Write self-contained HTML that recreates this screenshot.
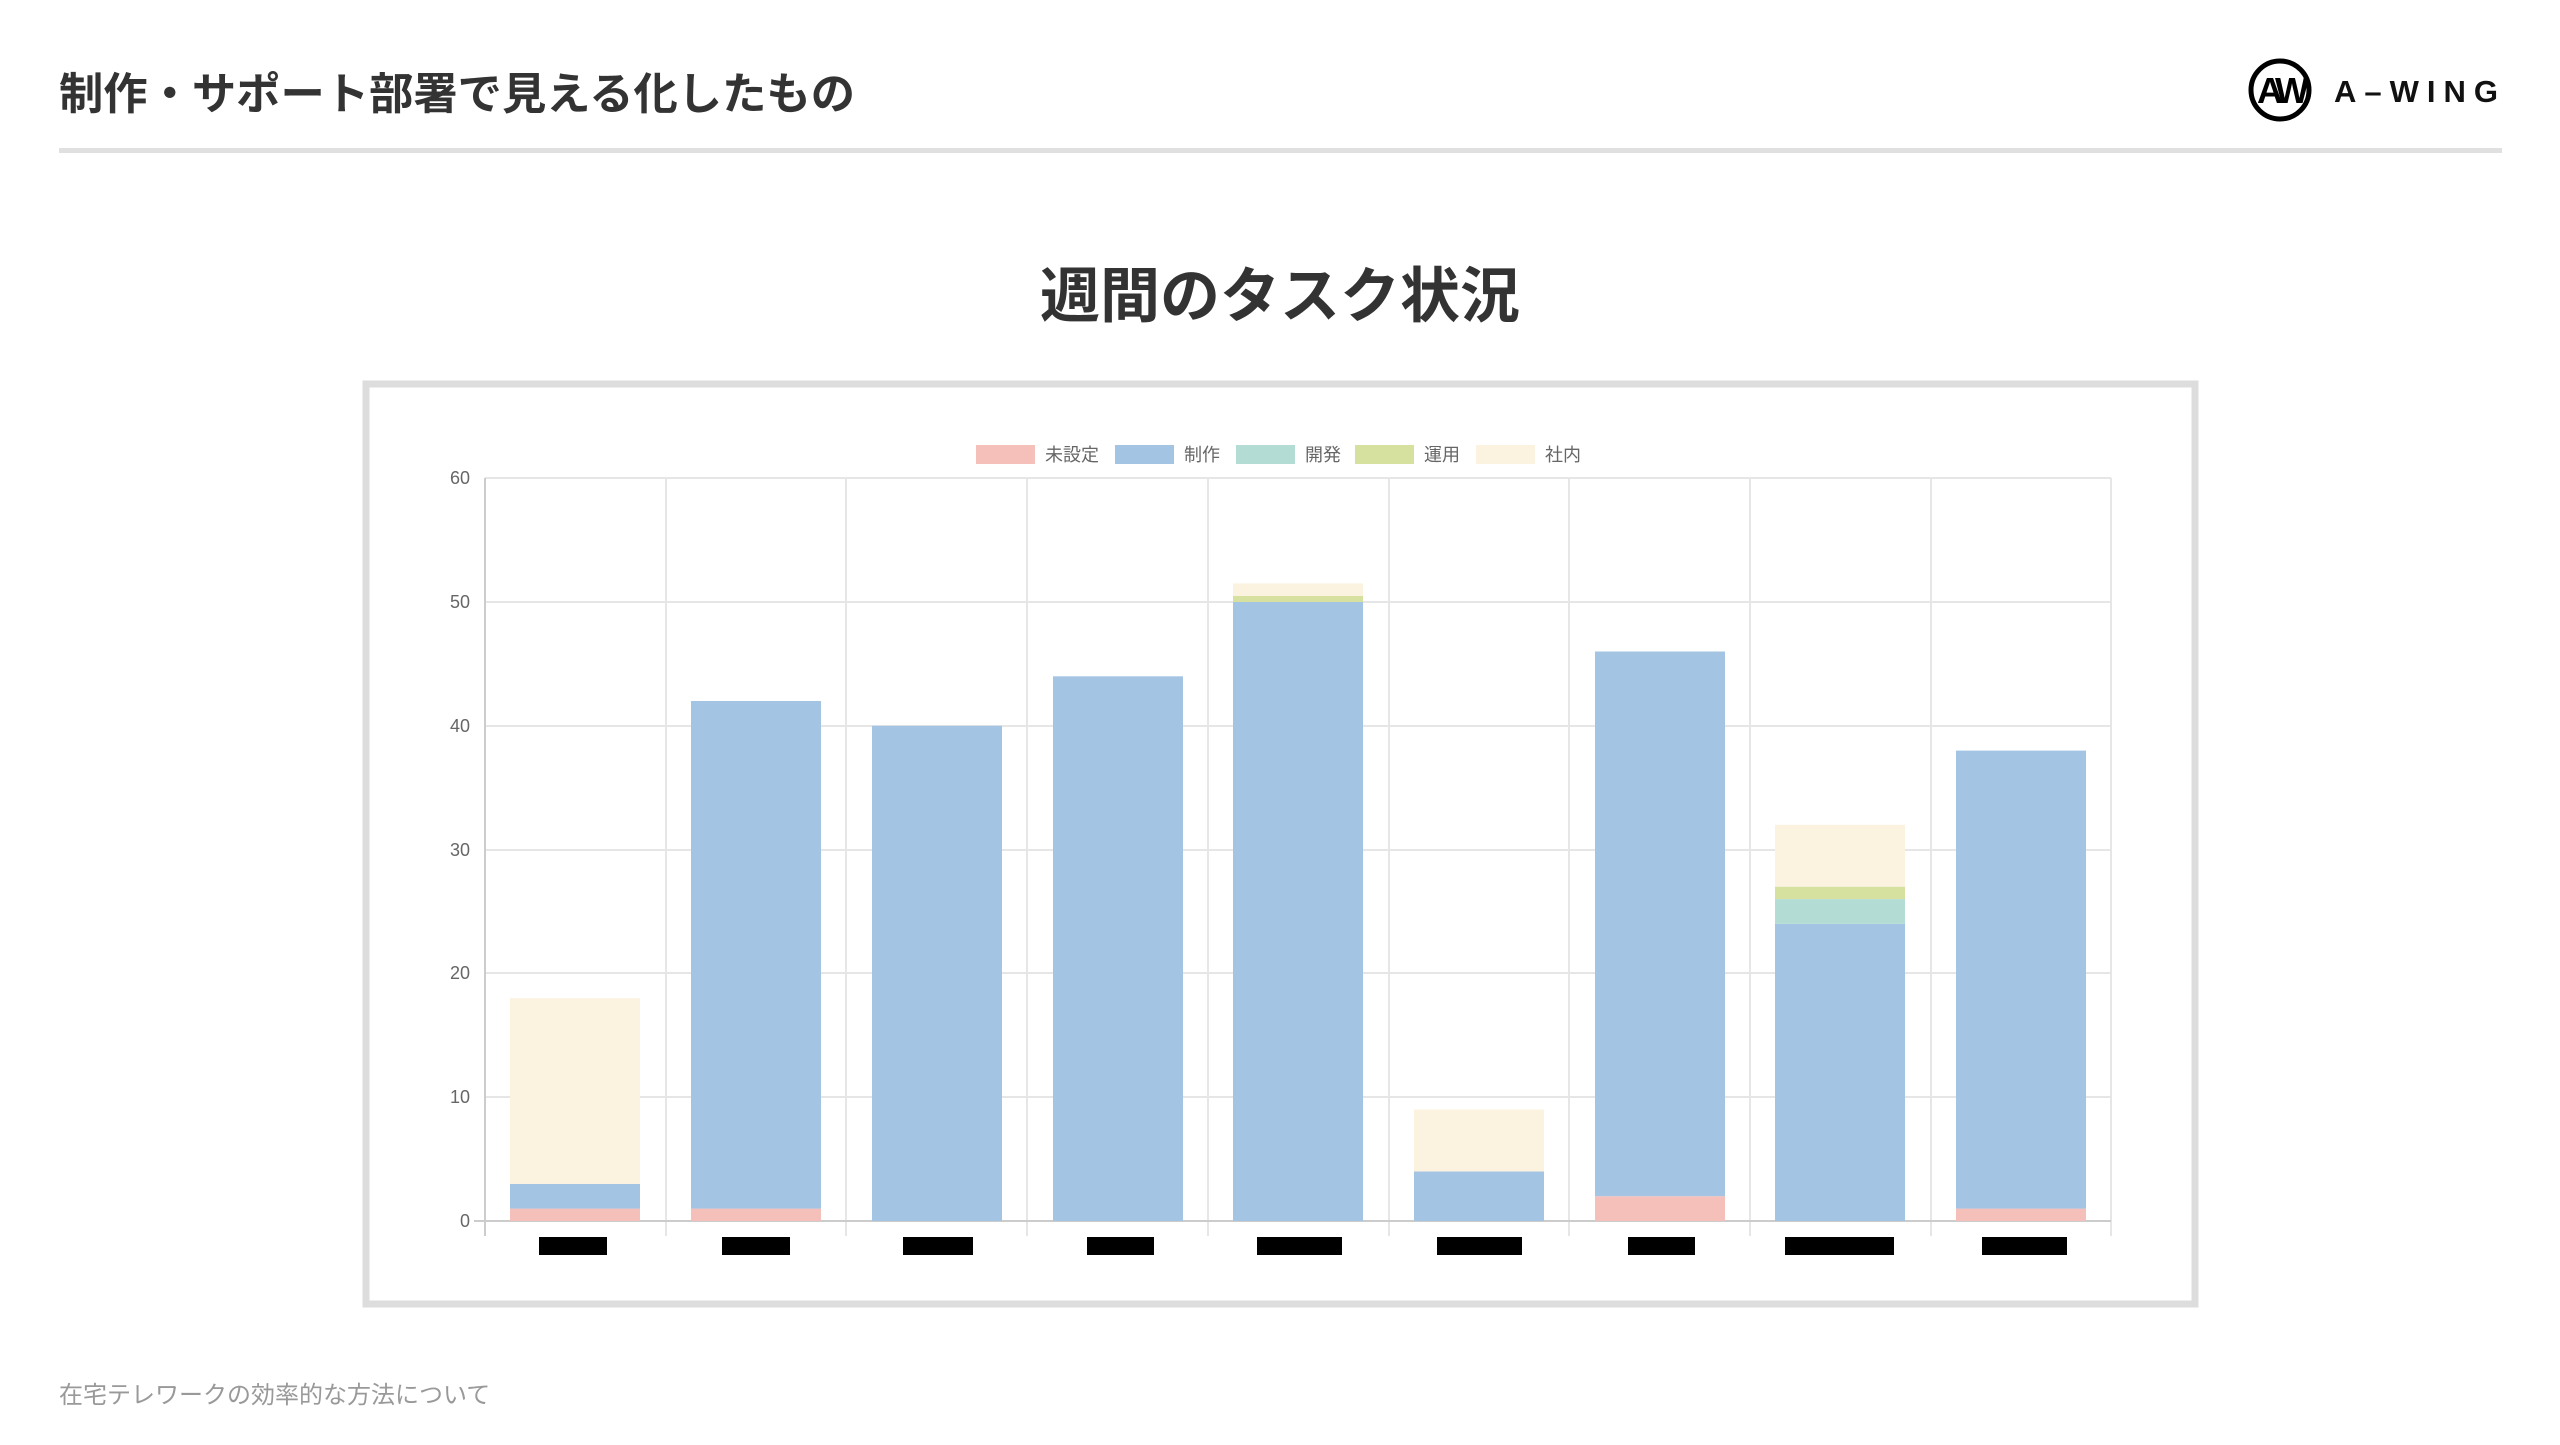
<!DOCTYPE html>
<html><head><meta charset="utf-8"><style>
html,body{margin:0;padding:0;background:#fff;}
body{width:2560px;height:1440px;overflow:hidden;}
svg text{font-family:"Liberation Sans","Noto Sans CJK JP",sans-serif;}
</style></head><body>
<svg width="2560" height="1440" viewBox="0 0 2560 1440" xmlns="http://www.w3.org/2000/svg">
<text x="59" y="109" font-size="44" font-weight="bold" fill="#333" textLength="796" lengthAdjust="spacingAndGlyphs">制作・サポート部署で見える化したもの</text>
<rect x="59" y="148" width="2443" height="5" fill="#e0e0e0"/>
<circle cx="2280" cy="90" r="29" fill="none" stroke="#000" stroke-width="5"/>
<text x="2280" y="103" font-size="36" font-weight="bold" text-anchor="middle" fill="#000" letter-spacing="-6">AW</text>
<text x="2334" y="102" font-size="31" font-weight="bold" fill="#111" letter-spacing="8">A–WING</text>
<text x="1280" y="317" font-size="60" font-weight="bold" text-anchor="middle" fill="#333">週間のタスク状況</text>
<rect x="366" y="384" width="1829" height="920" fill="#fff" stroke="#ddd" stroke-width="7"/>
<g font-size="18" fill="#666">
<rect x="976" y="445" width="59" height="19" fill="#f5c0ba"/><text x="1045" y="461">未設定</text>
<rect x="1115" y="445" width="59" height="19" fill="#a4c4e3"/><text x="1184" y="461">制作</text>
<rect x="1236" y="445" width="59" height="19" fill="#b3ddd4"/><text x="1305" y="461">開発</text>
<rect x="1355" y="445" width="59" height="19" fill="#d6e09f"/><text x="1424" y="461">運用</text>
<rect x="1476" y="445" width="59" height="19" fill="#fbf2e0"/><text x="1545" y="461">社内</text>
</g>
<g stroke="#e6e6e6" stroke-width="2">
<line x1="485" y1="478" x2="2111" y2="478"/>
<line x1="485" y1="602" x2="2111" y2="602"/>
<line x1="485" y1="726" x2="2111" y2="726"/>
<line x1="485" y1="850" x2="2111" y2="850"/>
<line x1="485" y1="973" x2="2111" y2="973"/>
<line x1="485" y1="1097" x2="2111" y2="1097"/>
<line x1="666" y1="478" x2="666" y2="1236"/>
<line x1="846" y1="478" x2="846" y2="1236"/>
<line x1="1027" y1="478" x2="1027" y2="1236"/>
<line x1="1208" y1="478" x2="1208" y2="1236"/>
<line x1="1389" y1="478" x2="1389" y2="1236"/>
<line x1="1569" y1="478" x2="1569" y2="1236"/>
<line x1="1750" y1="478" x2="1750" y2="1236"/>
<line x1="1931" y1="478" x2="1931" y2="1236"/>
<line x1="2111" y1="478" x2="2111" y2="1236"/>
</g>
<g stroke="#ccc" stroke-width="2">
<line x1="485" y1="478" x2="485" y2="1236"/>
<line x1="474" y1="1221" x2="2111" y2="1221"/>
</g>
<g font-size="18" fill="#666" text-anchor="end">
<text x="470" y="484">60</text><text x="470" y="608">50</text><text x="470" y="732">40</text>
<text x="470" y="856">30</text><text x="470" y="979">20</text><text x="470" y="1103">10</text>
<text x="470" y="1227">0</text>
</g>
<g>
<rect x="510" y="1208.6" width="130" height="12.4" fill="#f5c0ba"/>
<rect x="510" y="1183.9" width="130" height="24.7" fill="#a4c4e3"/>
<rect x="510" y="998.2" width="130" height="185.7" fill="#fbf2e0"/>
<rect x="691" y="1208.6" width="130" height="12.4" fill="#f5c0ba"/>
<rect x="691" y="701" width="130" height="507.6" fill="#a4c4e3"/>
<rect x="872" y="725.8" width="130" height="495.2" fill="#a4c4e3"/>
<rect x="1053" y="676.3" width="130" height="544.7" fill="#a4c4e3"/>
<rect x="1233" y="602" width="130" height="619" fill="#a4c4e3"/>
<rect x="1233" y="595.8" width="130" height="6.2" fill="#d6e09f"/>
<rect x="1233" y="583.4" width="130" height="12.4" fill="#fbf2e0"/>
<rect x="1414" y="1171.5" width="130" height="49.5" fill="#a4c4e3"/>
<rect x="1414" y="1109.6" width="130" height="61.9" fill="#fbf2e0"/>
<rect x="1595" y="1196.2" width="130" height="24.8" fill="#f5c0ba"/>
<rect x="1595" y="651.5" width="130" height="544.7" fill="#a4c4e3"/>
<rect x="1775" y="923.9" width="130" height="297.1" fill="#a4c4e3"/>
<rect x="1775" y="899.1" width="130" height="24.8" fill="#b3ddd4"/>
<rect x="1775" y="886.7" width="130" height="12.4" fill="#d6e09f"/>
<rect x="1775" y="824.8" width="130" height="61.9" fill="#fbf2e0"/>
<rect x="1956" y="1208.6" width="130" height="12.4" fill="#f5c0ba"/>
<rect x="1956" y="750.6" width="130" height="458" fill="#a4c4e3"/>
</g>
<g fill="#000">
<rect x="539" y="1237" width="68" height="18"/>
<rect x="722" y="1237" width="68" height="18"/>
<rect x="903" y="1237" width="70" height="18"/>
<rect x="1087" y="1237" width="67" height="18"/>
<rect x="1257" y="1237" width="85" height="18"/>
<rect x="1437" y="1237" width="85" height="18"/>
<rect x="1628" y="1237" width="67" height="18"/>
<rect x="1785" y="1237" width="109" height="18"/>
<rect x="1982" y="1237" width="85" height="18"/>
</g>
<text x="59" y="1403" font-size="24" fill="#999">在宅テレワークの効率的な方法について</text>
</svg>
</body></html>
